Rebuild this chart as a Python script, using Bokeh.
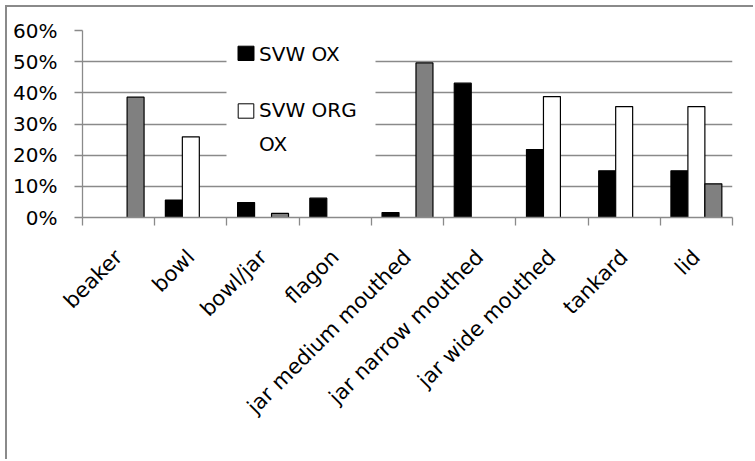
from math import pi

import numpy as np
from bokeh.core.properties import value
from bokeh.embed import file_html
from bokeh.models import ColumnDataSource, FixedTicker, NumeralTickFormatter, Range1d
from bokeh.plotting import figure
from bokeh.resources import INLINE

# ---- data -----------------------------------------------------------------
categories = ["beaker", "bowl", "bowl/jar", "flagon", "jar medium mouthed",
              "jar narrow mouthed", "jar wide mouthed", "tankard", "lid"]
svw_ox = [0.0, 0.056, 0.048, 0.062, 0.016, 0.431, 0.218, 0.150, 0.150]
svw_org_ox = [0.0, 0.259, 0.0, 0.0, 0.0, 0.0, 0.388, 0.356, 0.356]
series_3 = [0.386, 0.0, 0.013, 0.0, 0.496, 0.0, 0.0, 0.0, 0.108]
y_ticks = [0.0, 0.1, 0.2, 0.3, 0.4, 0.5, 0.6]
legend_labels = ["SVW OX", "SVW ORG", "OX"]

# ---- styling --------------------------------------------------------------
FONT = "DejaVu Sans"
FONT_SIZE = "20px"
GRID = "#8a8a8a"
BAR_W = 0.235

n = len(categories)
centers = np.arange(n) + 0.5
boundaries = list(np.arange(n + 1).astype(float))

p = figure(width=748, height=454,
           x_range=Range1d(0, n), y_range=Range1d(0, 0.6),
           output_backend="svg", toolbar_location=None,
           min_border_left=75, min_border_right=23,
           min_border_top=23, min_border_bottom=244)
p.styles = {"margin-left": "5px", "margin-top": "5px",
            "border-left": f"2px solid {GRID}", "border-top": f"2px solid {GRID}"}
p.outline_line_color = None
p.background_fill_color = "white"
p.border_fill_color = "white"

series = [(svw_ox, -BAR_W, "black"),
          (svw_org_ox, 0.0, "white"),
          (series_3, BAR_W, "#808080")]
for values, offset, color in series:
    vals = np.asarray(values)
    keep = vals > 0
    src = ColumnDataSource(dict(x=centers[keep] + offset, top=vals[keep]))
    p.vbar(x="x", top="top", bottom=0, width=BAR_W, source=src,
           fill_color=color, line_color="black", line_width=1.2)

# ---- axes -----------------------------------------------------------------
p.xgrid.visible = False
p.ygrid.grid_line_color = GRID
p.ygrid.grid_line_width = 1.3
p.ygrid.ticker = FixedTicker(ticks=y_ticks)

ya = p.yaxis[0]
ya.ticker = FixedTicker(ticks=y_ticks)
ya.formatter = NumeralTickFormatter(format="0%")
ya.axis_line_color = GRID
ya.axis_line_width = 1.3
ya.major_tick_line_color = GRID
ya.major_tick_line_width = 1.3
ya.major_tick_in = 0
ya.major_tick_out = 8
ya.minor_tick_line_color = None
ya.major_label_standoff = 17
ya.major_label_text_font = FONT
ya.major_label_text_font_size = FONT_SIZE
ya.major_label_text_color = "black"

xa = p.xaxis[0]
xa.ticker = FixedTicker(ticks=list(centers), minor_ticks=boundaries)
xa.major_label_overrides = {float(c): name for c, name in zip(centers, categories)}
xa.axis_line_color = GRID
xa.axis_line_width = 1.3
xa.major_tick_line_color = None
xa.minor_tick_line_color = GRID
xa.minor_tick_line_width = 1.3
xa.minor_tick_in = 0
xa.minor_tick_out = 8
xa.major_label_orientation = pi / 4
xa.major_label_standoff = 28
xa.major_label_text_font = FONT
xa.major_label_text_font_size = "21px"
xa.major_label_text_color = "black"

# ---- legend (drawn by hand; positions in frame pixels from top-left) -------
FRAME_W, FRAME_H = 650, 187


def dx(px):
    return px / FRAME_W * n


def dy(py):
    return 0.6 - py / FRAME_H * 0.6


# white panel hiding the gridlines behind the legend
p.quad(left=dx(144), right=dx(293), top=dy(4), bottom=dy(150),
       fill_color="white", line_color=None)
# legend swatches
p.quad(left=[dx(155.5), dx(155.7)], right=[dx(171.5), dx(171.3)],
       top=[dy(15.7), dy(73.3)], bottom=[dy(30), dy(87.7)],
       fill_color=["black", "white"], line_color="black", line_width=1)
# legend text
p.text(x=[dx(176.5)] * 3, y=[dy(23.5), dy(79), dy(113)], text=legend_labels,
       text_font=value(FONT), text_font_size=value(FONT_SIZE), text_color="black",
       text_baseline="alphabetic", text_align="left")

open("out.html", "w").write(file_html(p, INLINE))
